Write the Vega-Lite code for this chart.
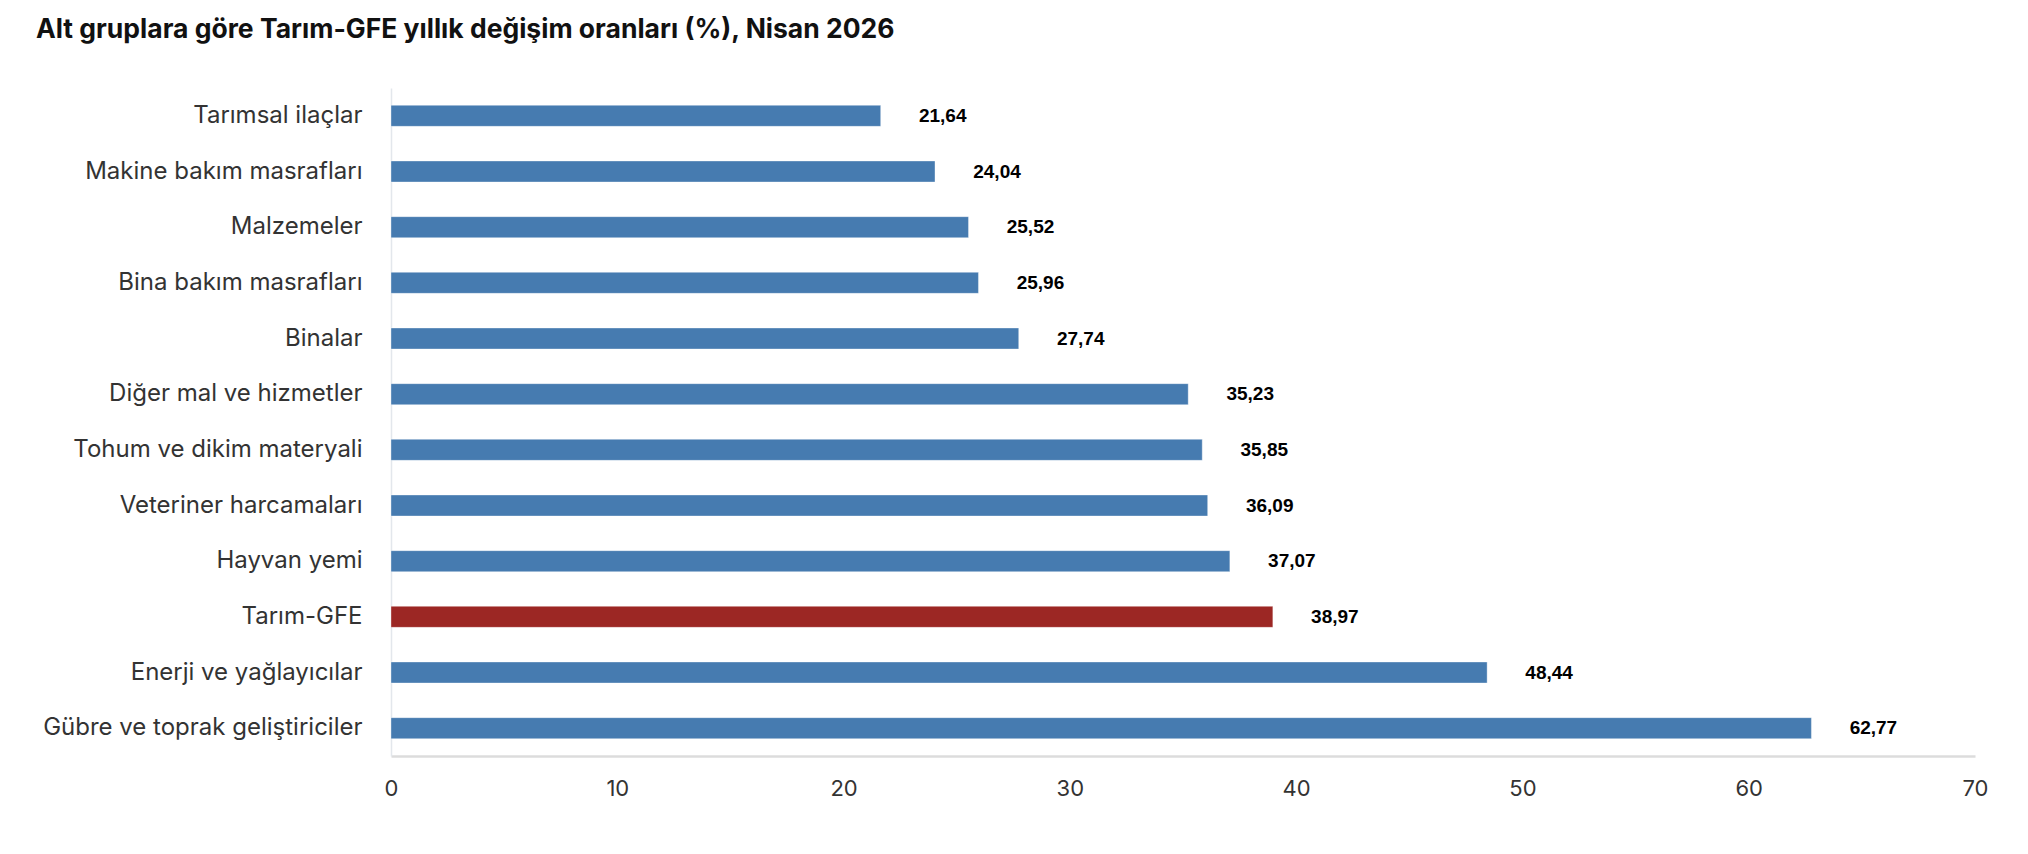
{
  "$schema": "https://vega.github.io/schema/vega-lite/v6.json",
  "autosize": "none",
  "width": 1584,
  "height": 668,
  "padding": {"left": 391, "top": 88, "right": 53, "bottom": 98},
  "background": "white",
  "title": {
    "text": "Alt gruplara göre Tarım-GFE yıllık değişim oranları (%), Nisan 2026",
    "anchor": "start",
    "frame": "group",
    "dx": -355,
    "offset": 45,
    "font": "Inter",
    "fontSize": 26.5,
    "fontWeight": "bold",
    "color": "#111111"
  },
  "config": {
    "view": {"stroke": null},
    "locale": {
      "number": {"decimal": ",", "thousands": ".", "grouping": [3], "currency": ["", " TL"]}
    }
  },
  "data": {
    "values": [
      {"grup": "Tarımsal ilaçlar", "oran": 21.64, "tur": "alt"},
      {"grup": "Makine bakım masrafları", "oran": 24.04, "tur": "alt"},
      {"grup": "Malzemeler", "oran": 25.52, "tur": "alt"},
      {"grup": "Bina bakım masrafları", "oran": 25.96, "tur": "alt"},
      {"grup": "Binalar", "oran": 27.74, "tur": "alt"},
      {"grup": "Diğer mal ve hizmetler", "oran": 35.23, "tur": "alt"},
      {"grup": "Tohum ve dikim materyali", "oran": 35.85, "tur": "alt"},
      {"grup": "Veteriner harcamaları", "oran": 36.09, "tur": "alt"},
      {"grup": "Hayvan yemi", "oran": 37.07, "tur": "alt"},
      {"grup": "Tarım-GFE", "oran": 38.97, "tur": "genel"},
      {"grup": "Enerji  ve yağlayıcılar", "oran": 48.44, "tur": "alt"},
      {"grup": "Gübre ve toprak geliştiriciler", "oran": 62.77, "tur": "alt"}
    ]
  },
  "encoding": {
    "y": {
      "field": "grup",
      "type": "nominal",
      "sort": null,
      "title": null,
      "scale": {"paddingInner": 0, "paddingOuter": 0},
      "axis": {
        "domainColor": "#e3e7ec",
        "domainWidth": 1.5,
        "ticks": false,
        "labelPadding": 29,
        "labelFont": "Inter",
        "labelFontSize": 24,
        "labelColor": "#333333",
        "labelLimit": 400
      }
    },
    "x": {
      "field": "oran",
      "type": "quantitative",
      "title": null,
      "scale": {"domain": [0, 70], "nice": false},
      "axis": {
        "values": [0, 10, 20, 30, 40, 50, 60, 70],
        "grid": false,
        "ticks": false,
        "labelFlush": false,
        "domainColor": "#dcdcdc",
        "domainWidth": 2.5,
        "labelPadding": 22,
        "labelFont": "Inter",
        "labelFontSize": 22,
        "labelColor": "#333333",
        "format": "d"
      }
    }
  },
  "layer": [
    {
      "mark": {"type": "bar", "size": 21, "stroke": "#ffffff", "strokeOpacity": 0.35, "strokeWidth": 1},
      "encoding": {
        "color": {
          "field": "tur",
          "type": "nominal",
          "scale": {"domain": ["alt", "genel"], "range": ["#467bb0", "#9c2724"]},
          "legend": null
        }
      }
    },
    {
      "mark": {
        "type": "text",
        "align": "center",
        "baseline": "middle",
        "dx": 62,
        "font": "Liberation Sans",
        "fontSize": 19,
        "fontWeight": "bold",
        "color": "#000000"
      },
      "encoding": {
        "text": {"field": "oran", "type": "quantitative", "format": ".2f"}
      }
    }
  ]
}
